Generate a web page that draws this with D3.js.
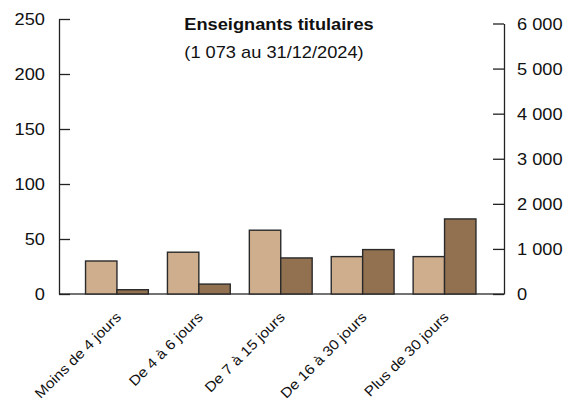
<!DOCTYPE html>
<html><head><meta charset="utf-8">
<script src="https://cdn.jsdelivr.net/npm/d3@7"></script>
<style>body{margin:0;background:#fff}svg{display:block;font-family:Arial,"Liberation Sans",sans-serif}</style>
</head><body>
<svg id="c" width="574" height="401"></svg>
<script>
const categories = ["Moins de 4 jours","De 4 à 6 jours","De 7 à 15 jours","De 16 à 30 jours","Plus de 30 jours"];
const agents = [30, 38, 58, 34, 34];          // left axis
const jours = [95, 220, 800, 985, 1665];      // right axis
const leftTicks = [0, 50, 100, 150, 200, 250];
const rightTicks = [0, 1000, 2000, 3000, 4000, 5000, 6000];
const title = "Enseignants titulaires";
const subtitle = "(1 073 au 31/12/2024)";

const SX = 1.14;
const svg = d3.select("#c");
const axL = 59, axR = 504, y0 = 294;
const yL = d3.scaleLinear().domain([0, 250]).range([y0, 19]);
const yR = d3.scaleLinear().domain([0, 6000]).range([y0, 23.5]);
const x = d3.scaleBand().domain(categories).range([76, 485.5]).paddingInner(0.233).paddingOuter(0.1165);
const x1 = d3.scaleBand().domain(["a","b"]).range([0, x.bandwidth()]);
const fmt = v => d3.format(",")(v).replace(/,/g, "\u00a0");

// baseline
svg.append("line").attr("x1", axL).attr("x2", axR).attr("y1", y0).attr("y2", y0)
  .attr("stroke", "#444").attr("stroke-width", 1.3);

// bars
const g = svg.append("g");
categories.forEach((c, i) => {
  g.append("rect").attr("x", x(c) + x1("a")).attr("y", yL(agents[i]))
    .attr("width", x1.bandwidth()).attr("height", y0 - yL(agents[i]))
    .attr("fill", "#cfae8e").attr("stroke", "#2a2a2a").attr("stroke-width", 1.4);
  g.append("rect").attr("x", x(c) + x1("b")).attr("y", yR(jours[i]))
    .attr("width", x1.bandwidth()).attr("height", y0 - yR(jours[i]))
    .attr("fill", "#927150").attr("stroke", "#2a2a2a").attr("stroke-width", 1.4);
});

// left axis
const la = svg.append("g").attr("transform", `translate(${axL},0)`)
  .call(d3.axisRight(yL).tickValues(leftTicks).tickSize(11).tickSizeOuter(0).tickFormat(d => d));
la.select(".domain").attr("stroke", "#222").attr("stroke-width", 1.3);
la.selectAll(".tick line").attr("stroke", "#222").attr("stroke-width", 1.3);
la.selectAll(".tick text").attr("x", 0).attr("transform", `translate(-14,0) scale(${SX},1)`)
  .attr("text-anchor", "end").attr("font-size", 16)
  .attr("font-family", "Arial, 'Liberation Sans', sans-serif").attr("fill", "#111").attr("dy", "0.35em");

// right axis
const ra = svg.append("g").attr("transform", `translate(${axR},0)`)
  .call(d3.axisLeft(yR).tickValues(rightTicks).tickSize(11).tickSizeOuter(0).tickFormat(fmt));
ra.select(".domain").attr("stroke", "#222").attr("stroke-width", 1.3);
ra.selectAll(".tick line").attr("stroke", "#222").attr("stroke-width", 1.3);
ra.selectAll(".tick text").attr("x", 0).attr("transform", `translate(13,0) scale(${SX},1)`)
  .attr("text-anchor", "start").attr("font-size", 16)
  .attr("font-family", "Arial, 'Liberation Sans', sans-serif").attr("fill", "#111").attr("dy", "0.35em");

// x labels
categories.forEach(c => {
  const cx = x(c) + x.bandwidth() / 2;
  svg.append("text").attr("transform", `translate(${cx + 5},318) rotate(-45) scale(1.12,1)`)
    .attr("text-anchor", "end").attr("font-size", 14).attr("fill", "#111").text(c);
});

// titles
svg.append("text").attr("transform", `translate(279,30) scale(${SX},1)`).attr("text-anchor", "middle")
  .attr("font-size", 16).attr("font-weight", "bold").attr("fill", "#111").text(title);
svg.append("text").attr("transform", `translate(274,58) scale(${SX},1)`).attr("text-anchor", "middle")
  .attr("font-size", 16).attr("fill", "#111").text(subtitle);
</script>
</body></html>
